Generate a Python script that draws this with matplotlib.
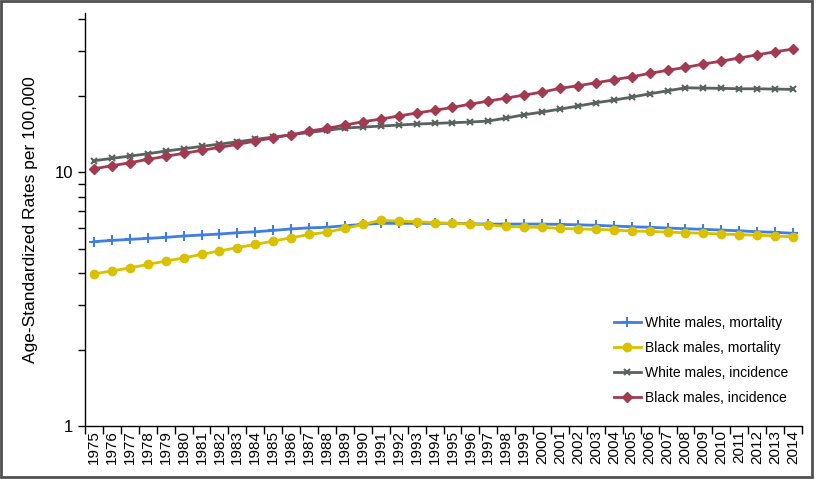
import matplotlib
matplotlib.use("Agg")
import matplotlib.pyplot as plt
from matplotlib.ticker import FixedLocator, NullFormatter
import numpy as np

plt.rcParams['font.family'] = ['Liberation Sans', 'DejaVu Sans']

# data
years = list(range(1975, 2015))

white_mortality = [5.32, 5.38, 5.43, 5.48, 5.53, 5.60, 5.65, 5.70, 5.77, 5.82,
                   5.89, 5.97, 6.03, 6.06, 6.15, 6.22, 6.28, 6.28, 6.28, 6.28,
                   6.28, 6.26, 6.24, 6.24, 6.24, 6.24, 6.22, 6.20, 6.17, 6.13,
                   6.09, 6.06, 6.02, 5.98, 5.95, 5.91, 5.87, 5.82, 5.79, 5.74]

black_mortality = [3.97, 4.08, 4.19, 4.33, 4.46, 4.59, 4.74, 4.89, 5.04, 5.19,
                   5.35, 5.51, 5.68, 5.80, 6.00, 6.22, 6.45, 6.41, 6.37, 6.32,
                   6.28, 6.24, 6.20, 6.11, 6.07, 6.06, 6.00, 5.97, 5.95, 5.91,
                   5.86, 5.84, 5.80, 5.77, 5.74, 5.70, 5.67, 5.64, 5.60, 5.56]

white_incidence = [11.08, 11.32, 11.56, 11.80, 12.10, 12.35, 12.62, 12.88, 13.16, 13.45,
                   13.73, 14.02, 14.32, 14.60, 14.90, 15.04, 15.17, 15.31, 15.45, 15.55,
                   15.64, 15.74, 15.88, 16.32, 16.81, 17.23, 17.70, 18.19, 18.74, 19.20,
                   19.73, 20.33, 20.89, 21.47, 21.41, 21.36, 21.28, 21.28, 21.22, 21.16]

black_incidence = [10.30, 10.59, 10.88, 11.22, 11.53, 11.85, 12.17, 12.51, 12.85, 13.24,
                   13.65, 14.02, 14.50, 14.86, 15.31, 15.78, 16.17, 16.62, 17.08, 17.50,
                   17.97, 18.52, 19.03, 19.56, 20.10, 20.65, 21.36, 21.87, 22.47, 23.09,
                   23.72, 24.47, 25.15, 25.84, 26.63, 27.35, 28.11, 28.96, 29.76, 30.50]

x = np.arange(len(years))

fig = plt.figure(figsize=(8.16, 4.79), dpi=100)
ax = fig.add_axes([85/816, 53/479, 717/816, 413/479])

ax.plot(x, white_mortality, color='#3F7FDF', lw=2, marker='+', ms=7, mew=1.5,
        label='White males, mortality')
ax.plot(x, black_mortality, color='#D9C100', lw=2, marker='o', ms=6,
        label='Black males, mortality')
ax.plot(x, white_incidence, color='#58625F', lw=2, marker='x', ms=5, mew=1.5,
        label='White males, incidence')
ax.plot(x, black_incidence, color='#A23A52', lw=2, marker='D', ms=5.5,
        label='Black males, incidence')

ax.set_yscale('log')
ax.set_ylim(1, 42.3)
ax.set_xlim(-0.5, len(years) - 0.5)

# y ticks: labels only at 1 and 10
ax.yaxis.set_major_locator(FixedLocator([1, 10]))
ax.yaxis.set_major_formatter(plt.FixedFormatter(['1', '10']))
ax.yaxis.set_minor_locator(FixedLocator([2, 3, 4, 5, 6, 7, 8, 9, 20, 30, 40]))
ax.yaxis.set_minor_formatter(NullFormatter())
ax.tick_params(axis='y', which='both', direction='out', length=5, width=1,
               labelsize=12)

# x ticks: marks between categories, labels at centres
ax.set_xticks(np.arange(-0.5, len(years), 1))
ax.set_xticklabels([])
ax.set_xticks(x, minor=True)
ax.set_xticklabels([str(y) for y in years], minor=True, rotation=90, fontsize=11)
ax.tick_params(axis='x', which='major', direction='out', length=6, width=1)
ax.tick_params(axis='x', which='minor', length=0, pad=3)

ax.spines['top'].set_visible(False)
ax.spines['right'].set_visible(False)
ax.spines['left'].set_linewidth(1)
ax.spines['bottom'].set_linewidth(1)

ax.set_ylabel('Age-Standardized Rates per 100,000', fontsize=12.5, labelpad=12)

ax.legend(loc='lower right', bbox_to_anchor=(0.998, 0.02), frameon=False,
          fontsize=10, numpoints=1, handlelength=1.95, handletextpad=0.3,
          labelspacing=0.8)

fig.add_artist(plt.Rectangle((1/816, 2/479), 811/816, 476/479,
                             transform=fig.transFigure, fill=False,
                             ec='#505050', lw=2))

fig.savefig('out.png', dpi=100)
